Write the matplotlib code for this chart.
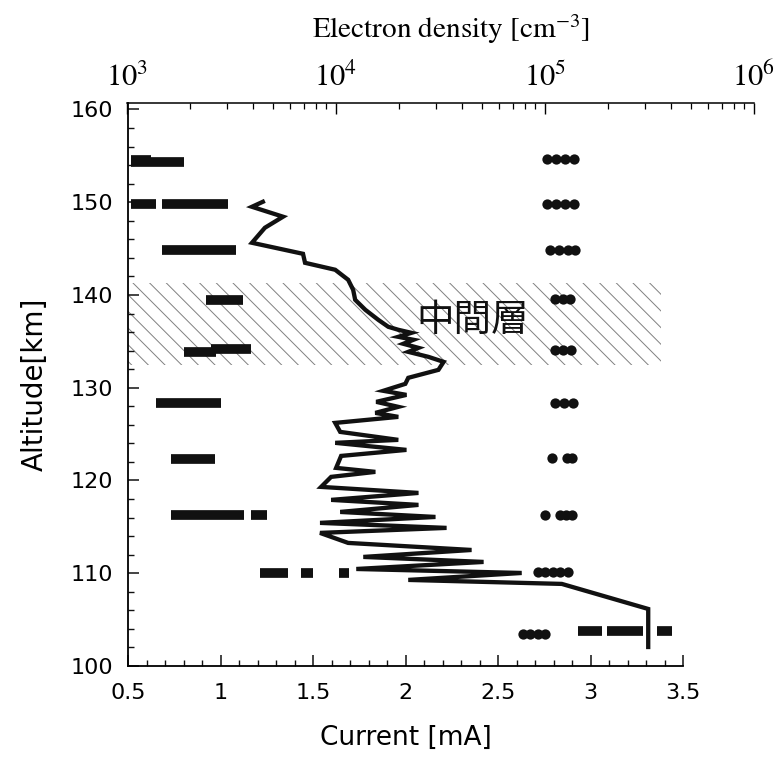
import matplotlib.pyplot as plt
from matplotlib.ticker import MultipleLocator, NullFormatter

plt.rcParams['font.family'] = ['DejaVu Sans', 'Noto Sans CJK JP']
plt.rcParams['mathtext.fontset'] = 'stix'
plt.rcParams['hatch.linewidth'] = 0.7

# 电流剖面 (bottom axis, mA) vs altitude (km)
line_current = [1.229, 1.170, 1.338, 1.240, 1.170, 1.446, 1.457, 1.620, 1.690, 1.717,
                1.728, 1.783, 1.853, 1.907, 1.961, 2.032, 1.961, 2.043, 1.988, 2.070,
                2.015, 2.124, 2.206, 2.178, 2.015, 1.999, 1.880, 2.005, 1.842, 1.961,
                1.837, 1.961, 1.620, 1.647, 1.961, 1.620, 2.005, 1.652, 1.625, 1.837,
                1.598, 1.544, 2.070, 1.598, 2.070, 1.647, 2.162, 1.538, 2.222, 1.538,
                1.690, 2.357, 1.772, 2.422, 1.734, 2.628, 2.015, 2.845, 3.312, 3.312]
line_alt = [150.05, 149.51, 148.44, 147.25, 145.63, 144.44, 143.47, 142.72, 141.64, 140.56,
            139.48, 138.40, 137.32, 136.57, 136.25, 135.92, 135.49, 135.17, 134.74, 134.30,
            133.87, 133.33, 132.79, 131.93, 131.07, 130.42, 129.67, 129.23, 128.48, 127.94,
            127.29, 126.86, 126.21, 125.24, 124.38, 124.06, 123.30, 122.65, 121.36, 120.93,
            120.39, 119.31, 118.66, 117.91, 117.37, 116.61, 116.07, 115.43, 114.89, 114.35,
            113.27, 112.51, 111.76, 111.22, 110.46, 110.03, 109.28, 108.85, 106.15, 102.05]

# 密度短横线 (top axis, cm^-3): altitude, start, end
bar_alt = [154.3, 154.6, 149.8, 149.8, 144.8, 139.5, 133.85, 134.15, 128.35, 122.35,
           116.3, 116.3, 110.06, 110.06, 110.06, 103.8, 103.8, 103.8]
bar_n0 = [1045, 1045, 1045, 1469, 1469, 2384, 1871, 2518, 1376, 1622,
          1622, 3908, 4315, 6776, 10310, 144500, 198600, 344300]
bar_n1 = [1871, 1303, 1376, 3040, 3320, 3582, 2661, 3908, 2812, 2632,
          3624, 4666, 5874, 7741, 11510, 188000, 295100, 406200]

# 密度圆点
dot_alt = [154.7] * 4 + [149.85] * 4 + [144.9] * 4 + [139.6] * 3 + [134.1] * 3 + \
          [128.4] * 3 + [122.45] * 3 + [116.3] * 4 + [110.15] * 5 + [103.45] * 4
dot_n = [102700, 113300, 125100, 138000,
         102700, 113300, 125100, 138000,
         106200, 117100, 129300, 139600,
         112100, 122500, 132200,
         112100, 122500, 133600,
         112100, 123800, 136700,
         108500, 127800, 135100,
         100400, 118500, 126500, 135100,
         92990, 100400, 109700, 118500, 129300,
         78900, 85200, 92990, 100400]

# 中間層 band
band_lo, band_hi = 132.5, 141.3
band_x = [0.5, 3.38]

fig = plt.figure(figsize=(7.75, 7.62), dpi=100)
ax = fig.add_axes([128 / 775, 96 / 762, 555 / 775, 563 / 762])
ax_top = fig.add_axes([127 / 775, 96 / 762, 627 / 775, 563 / 762], sharey=ax)

ax.fill_between(band_x, band_lo, band_hi, facecolor='none', edgecolor='#808080',
                hatch='\\\\', linewidth=0, zorder=0.5)
ax.plot(line_current, line_alt, color='#111111', lw=3.1, solid_joinstyle='miter', zorder=3)
ax.text(2.06, 137.3, '中間層', family=['Noto Sans CJK JP'], fontsize=27,
        va='center', ha='left', color='#111111', zorder=4)

ax.set_xlim(0.5, 3.5)
ax.set_ylim(100, 160.7)
ax.spines['top'].set_visible(False)
ax.spines['right'].set_visible(False)
for s in ['left', 'bottom']:
    ax.spines[s].set_linewidth(1.3)
ax.xaxis.set_major_locator(MultipleLocator(0.5))
ax.xaxis.set_minor_locator(MultipleLocator(0.1))
ax.yaxis.set_major_locator(MultipleLocator(10))
ax.yaxis.set_minor_locator(MultipleLocator(2))
ax.set_xticks([0.5, 1, 1.5, 2, 2.5, 3, 3.5], labels=['0.5', '1', '1.5', '2', '2.5', '3', '3.5'])
ax.tick_params(which='major', direction='in', length=8, width=1.1, labelsize=16, color='#111111')
ax.tick_params(which='minor', direction='in', length=4.5, width=1.0, color='#111111')
ax.tick_params(axis='x', which='major', pad=12)
ax.tick_params(axis='y', which='major', pad=11)
ax.set_xlabel('Current [mA]', fontsize=19)
ax.xaxis.set_label_coords(0.5, -0.105)
ax.set_ylabel('Altitude[km]', fontsize=20)
ax.yaxis.set_label_coords(-0.142, 0.5)

ax_top.patch.set_alpha(0)
ax_top.set_xscale('log')
ax_top.set_xlim(1e3, 1e6)
for s in ['left', 'right', 'bottom']:
    ax_top.spines[s].set_visible(False)
ax_top.spines['top'].set_linewidth(1.1)
ax_top.xaxis.tick_top()
ax_top.xaxis.set_label_position('top')
ax_top.tick_params(axis='y', which='both', left=False, right=False, labelleft=False)
ax_top.tick_params(axis='x', which='major', direction='in', length=8, width=1.0, pad=8,
                   labelsize=22)
ax_top.tick_params(axis='x', which='minor', direction='in', length=4, width=0.9)
ax_top.set_xticks([1e3, 1e4, 1e5, 1e6],
                  labels=[r'$10^{3}$', r'$10^{4}$', r'$10^{5}$', r'$10^{6}$'])
ax_top.xaxis.set_minor_formatter(NullFormatter())
ax_top.set_xlabel(r'Electron density [cm$^{-3}$]', family='STIXGeneral', fontsize=21)
ax_top.xaxis.set_label_coords(0.517, 1.115)

ax_top.hlines(bar_alt, bar_n0, bar_n1, color='#111111', lw=7, capstyle='butt', zorder=3)
ax_top.plot(dot_n, dot_alt, 'o', color='#111111', ms=7.4, mec='none', zorder=3)

fig.savefig('out.png', dpi=100)
